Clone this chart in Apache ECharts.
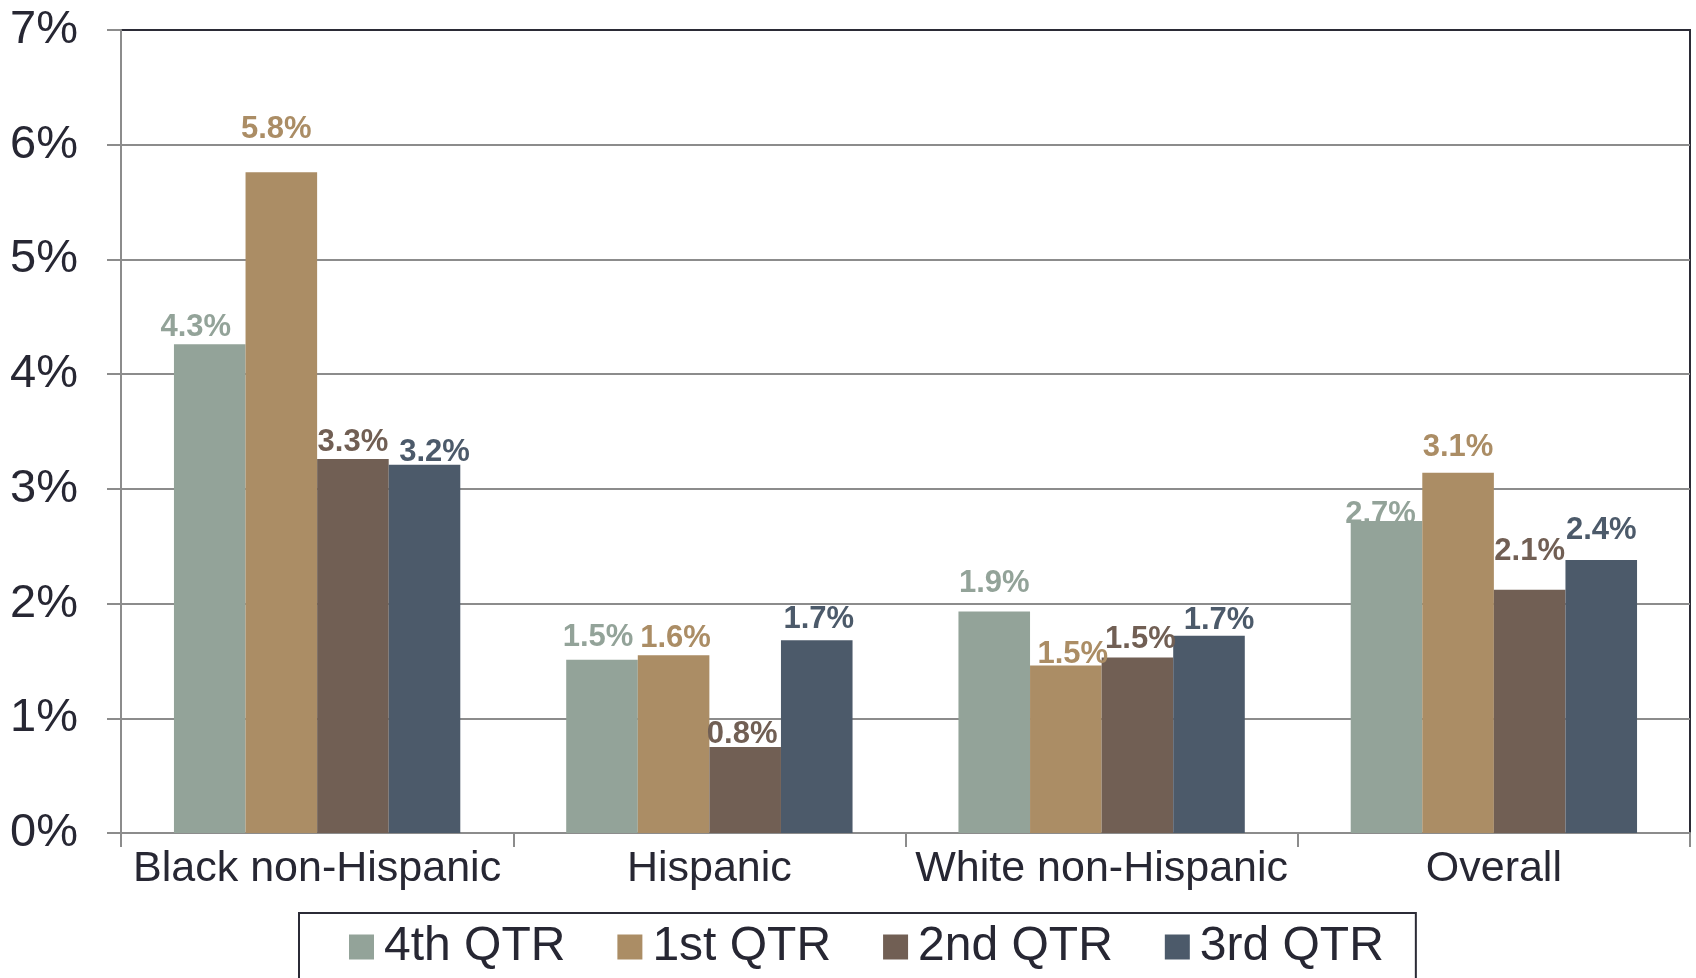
<!DOCTYPE html>
<html>
<head>
<meta charset="utf-8">
<script src="https://cdn.jsdelivr.net/npm/echarts@6/dist/echarts.min.js"></script>
<style>
html,body{margin:0;padding:0;background:#fff;}
#chart{width:1696px;height:978px;}
</style>
</head>
<body>
<div id="chart"></div>
<script>
const categories = ['Black non-Hispanic', 'Hispanic', 'White non-Hispanic', 'Overall'];
const seriesNames = ['4th QTR', '1st QTR', '2nd QTR', '3rd QTR'];
const q4 = [4.26, 1.51, 1.93, 2.72];
const q1 = [5.76, 1.55, 1.46, 3.14];
const q2 = [3.26, 0.75, 1.53, 2.12];
const q3 = [3.21, 1.68, 1.72, 2.38];
const yTicks = [0, 1, 2, 3, 4, 5, 6, 7];

const colors = ['#93a399', '#ab8d65', '#715f54', '#4c5a6a'];
// label nudges [dx, dy] per series per category (styling only)
const labelNudge = [
  [[-14, 0], [-4, -6], [0, -12], [-6, 10]],
  [[-5, -26], [2, 0], [7, 5], [0, -9]],
  [[0, 0], [-3, 4], [3, -2], [0, -22]],
  [[10, 4], [2, -4], [10, 1], [0, -13]]
];
const values = [q4, q1, q2, q3];
const textColor = '#272733';
const axisGray = '#8c8c8c';
const font = '"Liberation Sans", Arial, sans-serif';

const chart = echarts.init(document.getElementById('chart'), null, {renderer: 'canvas'});
const series = values.map((arr, si) => ({
  name: seriesNames[si],
  type: 'bar',
  barGap: '0%',
  barCategoryGap: '27%',
  itemStyle: {color: colors[si]},
  data: arr.map((v, ci) => ({
    value: v,
    label: {offset: labelNudge[si][ci]}
  })),
  label: {
    show: true,
    position: 'top',
    distance: 1,
    color: colors[si],
    fontFamily: font,
    fontWeight: 'bold',
    fontSize: 31,
    formatter: p => p.value.toFixed(1) + '%'
  }
}));

chart.setOption({
  animation: false,
  backgroundColor: '#fff',
  grid: {
    left: 121, right: 6, top: 30, bottom: 145,
    show: true, borderColor: '#2b2b36', borderWidth: 2, backgroundColor: 'transparent'
  },
  legend: {
    data: seriesNames,
    left: 299,
    top: 913,
    icon: 'rect',
    itemWidth: 25,
    itemHeight: 25,
    itemGap: 52,
    borderColor: '#2b2b36',
    borderWidth: 2,
    padding: [10, 32, 12, 50],
    textStyle: {color: textColor, fontSize: 48, fontFamily: font, padding: [0, 0, 0, 5]}
  },
  xAxis: {
    type: 'category',
    data: categories,
    boundaryGap: true,
    axisLine: {lineStyle: {color: axisGray, width: 2}},
    axisTick: {show: true, length: 14, interval: 0, lineStyle: {color: axisGray, width: 2}},
    axisLabel: {color: textColor, fontSize: 43, fontFamily: font, margin: 15, interval: 0}
  },
  yAxis: {
    type: 'value',
    min: yTicks[0],
    max: yTicks[yTicks.length - 1],
    interval: 1,
    axisLine: {show: true, lineStyle: {color: axisGray, width: 2}},
    axisTick: {show: true, length: 14, lineStyle: {color: axisGray, width: 2}},
    splitLine: {show: true, showMaxLine: false, lineStyle: {color: axisGray, width: 2}},
    axisLabel: {color: textColor, fontSize: 47, fontFamily: font, margin: 43, formatter: '{value}%'}
  },
  series: series
});
</script>
</body>
</html>
